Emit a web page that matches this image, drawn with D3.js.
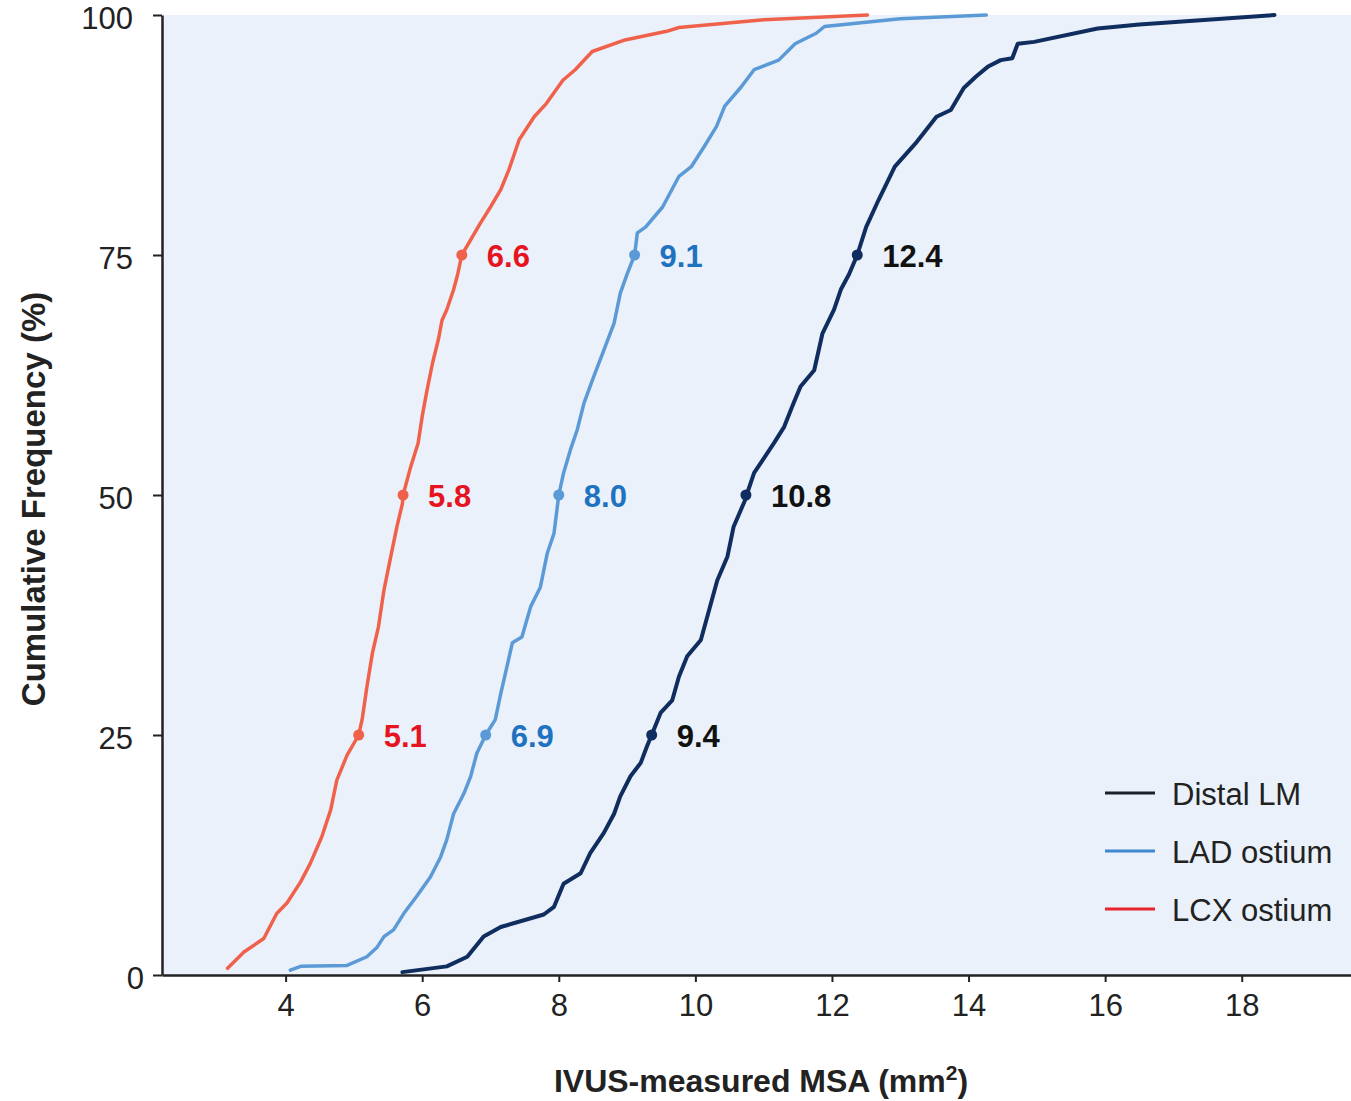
<!DOCTYPE html>
<html>
<head>
<meta charset="utf-8">
<script src="https://cdn.jsdelivr.net/npm/d3@7"></script>
<style>
  body { margin: 0; background: #fff; }
  text { font-family: "Liberation Sans", Arial, sans-serif; }
</style>
</head>
<body>
<div id="chart"></div>
<script>
// cumulative curves: [MSA mm2, cumulative %]
const distalLM = [
  [5.71, 0.3], [6.36, 0.9], [6.66, 1.9], [6.90, 4.0], [7.15, 5.0], [7.78, 6.3], [7.93, 7.1],
  [8.07, 9.5], [8.32, 10.6], [8.46, 12.7], [8.66, 14.8], [8.81, 16.8], [8.90, 18.6],
  [9.05, 20.7], [9.20, 22.1], [9.29, 23.8], [9.36, 25.0], [9.49, 27.3], [9.66, 28.6],
  [9.76, 31.1], [9.88, 33.2], [10.08, 34.9], [10.20, 38.0], [10.32, 41.1], [10.47, 43.6],
  [10.56, 46.7], [10.73, 49.5], [10.75, 50.0], [10.86, 52.3], [11.15, 55.4], [11.30, 57.1],
  [11.44, 59.6], [11.54, 61.3], [11.74, 63.0], [11.86, 66.8], [12.03, 69.3], [12.13, 71.4],
  [12.25, 73.0], [12.37, 75.0], [12.50, 77.9], [12.68, 80.7], [12.92, 84.2], [13.22, 86.6],
  [13.53, 89.4], [13.74, 90.1], [13.93, 92.4], [14.11, 93.6], [14.28, 94.6], [14.47, 95.3],
  [14.64, 95.5], [14.72, 97.0], [14.96, 97.2], [15.89, 98.6], [16.5, 99.0], [18.48, 100]
];
const ladOstium = [
  [4.07, 0.5], [4.22, 0.9], [4.90, 1.0], [5.19, 1.9], [5.34, 2.9], [5.44, 4.0], [5.58, 4.7],
  [5.73, 6.4], [5.92, 8.2], [6.12, 10.2], [6.27, 12.3], [6.36, 14.1], [6.46, 16.8],
  [6.61, 18.9], [6.71, 20.7], [6.80, 23.1], [6.93, 25.0], [7.07, 26.6], [7.15, 29.3],
  [7.24, 32.1], [7.32, 34.6], [7.46, 35.2], [7.59, 38.4], [7.73, 40.4], [7.83, 43.9],
  [7.93, 46.0], [8.00, 50.0], [8.07, 52.3], [8.17, 54.7], [8.27, 56.8], [8.37, 59.6],
  [8.51, 62.3], [8.66, 65.1], [8.81, 67.9], [8.90, 71.0], [9.00, 73.0], [9.11, 75.0],
  [9.15, 77.3], [9.27, 77.9], [9.52, 80.0], [9.76, 83.2], [9.94, 84.2], [10.13, 86.3],
  [10.31, 88.4], [10.43, 90.5], [10.67, 92.5], [10.86, 94.3], [11.22, 95.3], [11.46, 97.0],
  [11.77, 98.1], [11.89, 98.8], [13.0, 99.6], [14.26, 100]
];
const lcxOstium = [
  [3.15, 0.7], [3.39, 2.4], [3.68, 3.8], [3.87, 6.4], [4.02, 7.5], [4.22, 9.7], [4.36, 11.6],
  [4.53, 14.4], [4.66, 17.2], [4.75, 20.3], [4.90, 22.9], [5.07, 25.0], [5.12, 26.6],
  [5.19, 30.0], [5.27, 33.5], [5.36, 36.3], [5.44, 40.1], [5.54, 43.6], [5.63, 46.7],
  [5.71, 49.1], [5.72, 50.0], [5.83, 52.9], [5.94, 55.4], [6.00, 58.2], [6.07, 60.9],
  [6.15, 63.7], [6.24, 66.3], [6.29, 68.2], [6.36, 69.3], [6.46, 71.4], [6.52, 73.0],
  [6.58, 75.0], [6.85, 78.3], [7.00, 80.0], [7.15, 81.8], [7.27, 83.9], [7.42, 87.0],
  [7.64, 89.4], [7.82, 90.8], [8.06, 93.2], [8.24, 94.3], [8.49, 96.2], [8.97, 97.4],
  [9.58, 98.3], [9.76, 98.7], [11.0, 99.5], [12.52, 100]
];

// quartile markers (position on curve) and their printed labels
const quartilePct = [25, 50, 75];
const lmQuartiles = [9.36, 10.74, 12.37];
const ladQuartiles = [6.93, 8.00, 9.11];
const lcxQuartiles = [5.07, 5.72, 6.58];
const lmLabels = ["9.4", "10.8", "12.4"];
const ladLabels = ["6.9", "8.0", "9.1"];
const lcxLabels = ["5.1", "5.8", "6.6"];

const seriesNames = ["Distal LM", "LAD ostium", "LCX ostium"];
const xTicks = [4, 6, 8, 10, 12, 14, 16, 18];
const yTicks = [0, 25, 50, 75, 100];

const svgWidth = 1351;
const svgHeight = 1101;

const series = [
  { name: seriesNames[0], data: distalLM, q: lmQuartiles, labels: lmLabels,
    line: "#0f2d5e", width: 4, text: "#111111", legend: "#1b1f2a" },
  { name: seriesNames[1], data: ladOstium, q: ladQuartiles, labels: ladLabels,
    line: "#5b9ad6", width: 3.5, text: "#1f72c0", legend: "#3f87cf" },
  { name: seriesNames[2], data: lcxOstium, q: lcxQuartiles, labels: lcxLabels,
    line: "#f0614b", width: 3.5, text: "#e5141e", legend: "#e8232b" }
];

const svg = d3.select("#chart")
  .append("svg")
  .attr("width", svgWidth)
  .attr("height", svgHeight);

const xScale = d3.scaleLinear().domain([2.19, 19.6]).range([162, 1351]);
const yScale = d3.scaleLinear().domain([0, 100]).range([975, 15]);

// plot background
svg.append("rect")
  .attr("x", xScale.range()[0])
  .attr("y", yScale(100))
  .attr("width", xScale.range()[1] - xScale.range()[0])
  .attr("height", yScale(0) - yScale(100))
  .attr("fill", "#eaf1fa");

const line = d3.line()
  .x(d => xScale(d[0]))
  .y(d => yScale(d[1]));

series.forEach(s => {
  svg.append("path")
    .datum(s.data)
    .attr("d", line)
    .attr("fill", "none")
    .attr("stroke", s.line)
    .attr("stroke-width", s.width)
    .attr("stroke-linejoin", "round")
    .attr("stroke-linecap", "round");

  const marks = s.q.map((v, i) => ({ x: v, y: quartilePct[i], label: s.labels[i] }));
  svg.selectAll(null).data(marks).enter().append("circle")
    .attr("cx", d => xScale(d.x))
    .attr("cy", d => yScale(d.y))
    .attr("r", 5.5)
    .attr("fill", s.line);
  svg.selectAll(null).data(marks).enter().append("text")
    .attr("x", d => xScale(d.x) + 25)
    .attr("y", d => yScale(d.y))
    .attr("dy", "0.38em")
    .attr("font-size", 31)
    .attr("font-weight", "bold")
    .attr("fill", s.text)
    .text(d => d.label);
});

// axes
const xAxis = svg.append("g")
  .attr("transform", `translate(0,${yScale(0)})`)
  .call(d3.axisBottom(xScale).tickValues(xTicks).tickSize(7).tickSizeOuter(0).tickPadding(12));
const yAxis = svg.append("g")
  .attr("transform", `translate(${xScale.range()[0]},0)`)
  .call(d3.axisLeft(yScale).tickValues(yTicks).tickSize(9).tickSizeOuter(0).tickPadding(20));

[xAxis, yAxis].forEach(ax => {
  ax.select(".domain").attr("stroke", "#222").attr("stroke-width", 2.5);
  ax.selectAll(".tick line").attr("stroke", "#222").attr("stroke-width", 2);
  ax.selectAll(".tick text")
    .attr("font-size", 31)
    .attr("font-family", "Liberation Sans, Arial, sans-serif")
    .attr("fill", "#222");
});
xAxis.selectAll(".tick text").attr("dy", "0.71em");
yAxis.selectAll(".tick text").attr("dy", "0.45em");
// the "0" label sits further right in the original
yAxis.selectAll(".tick text").filter(d => d === 0).attr("dx", 11);

// axis titles
const xTitle = svg.append("text")
  .attr("x", 761)
  .attr("y", 1092)
  .attr("text-anchor", "middle")
  .attr("font-size", 32)
  .attr("font-weight", "bold")
  .attr("fill", "#222");
xTitle.append("tspan").text("IVUS-measured MSA (mm");
xTitle.append("tspan").attr("font-size", 21).attr("dy", -12).text("2");
xTitle.append("tspan").attr("dy", 12).text(")");

svg.append("text")
  .attr("transform", "translate(45,499) rotate(-90)")
  .attr("text-anchor", "middle")
  .attr("font-size", 33)
  .attr("font-weight", "bold")
  .attr("fill", "#222")
  .text("Cumulative Frequency (%)");

// legend
const legendY = d3.scalePoint().domain(seriesNames).range([793, 909]);
const legend = svg.selectAll(".legend").data(series).enter().append("g")
  .attr("transform", d => `translate(1105,${legendY(d.name)})`);
legend.append("line")
  .attr("x1", 0).attr("x2", 50)
  .attr("stroke", d => d.legend)
  .attr("stroke-width", 3);
legend.append("text")
  .attr("x", 67)
  .attr("y", 12)
  .attr("font-size", 31)
  .attr("fill", "#222")
  .text(d => d.name);
</script>
</body>
</html>
